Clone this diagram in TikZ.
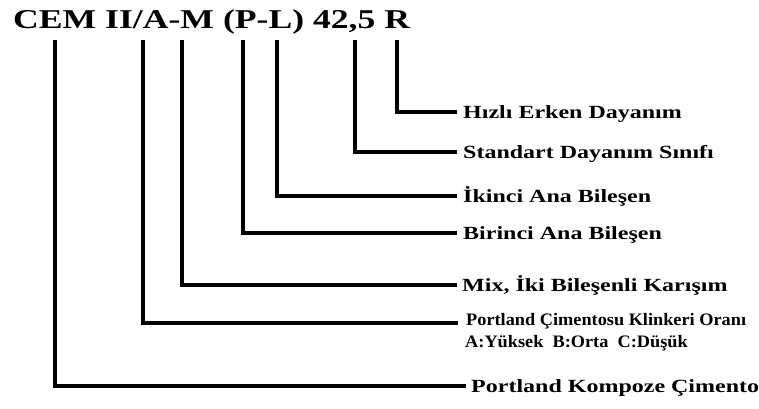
\documentclass[tikz,border=0pt]{standalone}
\usepackage{fontspec}
\setmainfont{Liberation Serif}
\newcommand{\sx}[2]{\scalebox{#1}[1]{#2}}
\begin{document}
\begin{tikzpicture}[x=1pt,y=-1pt,
  conn/.style={line width=3.6pt, line join=miter},
  lbl/.style={anchor=west, inner xsep=6pt, inner ysep=0pt, text height=12.3pt, text depth=0pt,
    font=\fontsize{18.6}{20}\selectfont\bfseries},
  smalllbl/.style={font=\fontsize{17.5}{19}\selectfont\bfseries},
]
\useasboundingbox[fill=white] (0,0) rectangle (759,408);
\node[anchor=base west, inner sep=0pt, font=\fontsize{27.2}{30}\selectfont\bfseries] (title) at (13,28)
  {\sx{1.31}{CEM II/A-M (P-L) 42,5 R}};
% tick tops
\coordinate (tCEM) at (55,40);
\coordinate (tA) at (143,40);
\coordinate (tM) at (182,40);
\coordinate (tP) at (243,40);
\coordinate (tL) at (277,40);
\coordinate (tN) at (355,40);
\coordinate (tR) at (397,40);
% labels
\node[lbl] (hiz) at (457,112) {\sx{1.29}{Hızlı Erken Dayanım}};
\node[lbl] (std) at (457,152) {\sx{1.29}{Standart Dayanım Sınıfı}};
\node[lbl] (iki) at (457,196) {\sx{1.29}{İkinci Ana Bileşen}};
\node[lbl] (bir) at (457,233) {\sx{1.29}{Birinci Ana Bileşen}};
\node[lbl, inner xsep=5pt] (mix) at (457,285) {\sx{1.29}{Mix, İki Bileşenli Karışım}};
\node[lbl, smalllbl, text height=4pt, inner xsep=8pt] (oran) at (458,323)
  {\sx{1.045}{Portland Çimentosu Klinkeri Oranı}};
\node[anchor=base west, inner sep=0pt, smalllbl] (abc) at (465,347)
  {\sx{1.045}{A:Yüksek\ \ B:Orta\ \ C:Düşük}};
\node[lbl, inner xsep=5pt] (pkc) at (466,386) {\sx{1.29}{Portland Kompoze Çimento}};
% connectors
\draw[conn] (tR) |- (hiz.west);
\draw[conn] (tN) |- (std.west);
\draw[conn] (tL) |- (iki.west);
\draw[conn] (tP) |- (bir.west);
\draw[conn] (tM) |- (mix.west);
\draw[conn] (tA) |- (oran.west);
\draw[conn] (tCEM) |- (pkc.west);
\end{tikzpicture}
\end{document}
